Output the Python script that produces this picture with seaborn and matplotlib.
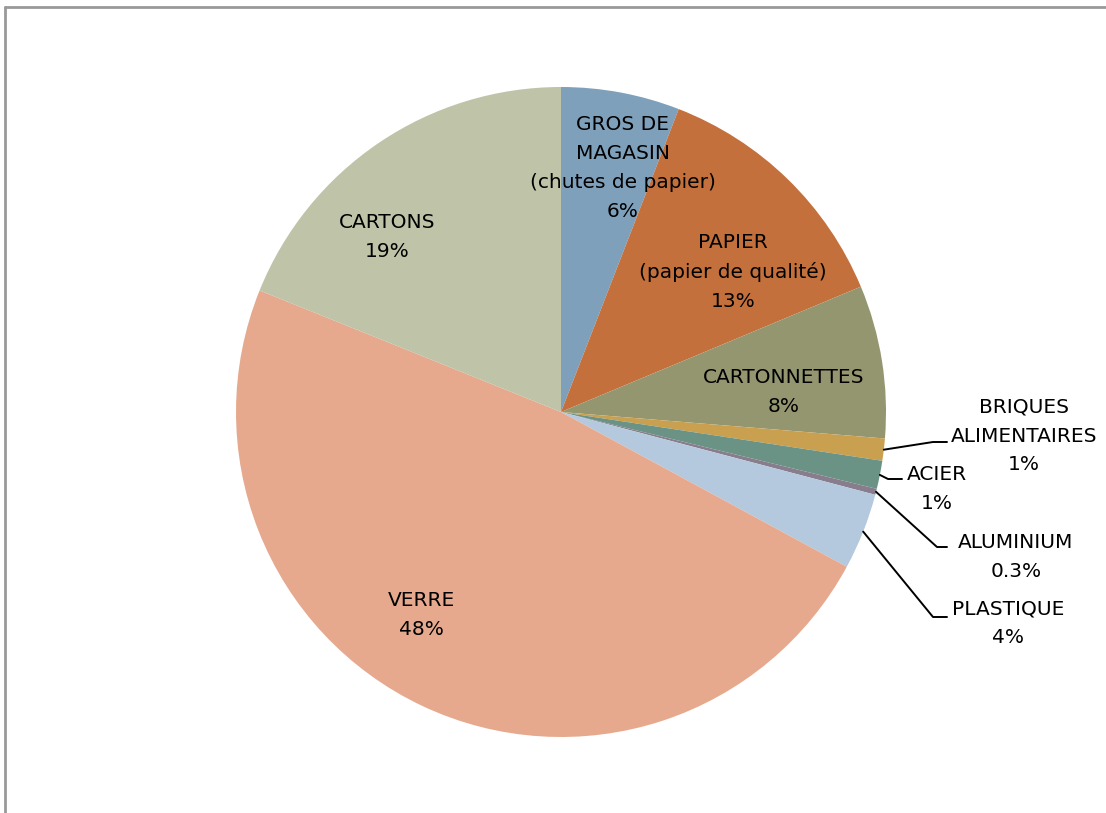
import numpy as np
import matplotlib
matplotlib.use("Agg")
import matplotlib.pyplot as plt
import seaborn as sns

# share of each waste type (percent), clockwise from 12 o'clock
categories = ["GROS DE\nMAGASIN\n(chutes de papier)", "PAPIER\n(papier de qualité)", "CARTONNETTES",
              "BRIQUES\nALIMENTAIRES", "ACIER", "ALUMINIUM", "PLASTIQUE", "VERRE", "CARTONS"]
values = [5.9, 12.8, 7.6, 1.1, 1.4, 0.3, 3.8, 48.2, 18.9]
pct_labels = ["6%", "13%", "8%", "1%", "1%", "0.3%", "4%", "48%", "19%"]
colors = ["#7fa0bb", "#c4703c", "#949670", "#c9a04f", "#6a9385", "#887d8c",
          "#b4c9dd", "#e6a98e", "#bfc3a8"]

sns.set_theme(style="white")
plt.rcParams['font.family'] = ['DejaVu Sans']

fig = plt.figure(figsize=(11.06, 8.13), dpi=100)
W, H = 1106, 813
cx, cy, R = 561, 412, 325
ax = fig.add_axes([(cx - R) / W, (H - cy - R) / H, 2 * R / W, 2 * R / H])

wedges, _ = ax.pie(values, colors=colors, startangle=90, counterclock=False,
                   wedgeprops=dict(linewidth=0))
ax.set_xlim(-1, 1)
ax.set_ylim(-1, 1)
ax.set_aspect("equal")
ax.axis("off")

def px(x, y):
    # pixel position -> data coords of the pie axes
    return (x - cx) / R, (cy - y) / R

fs = 14.5
ls = 1.65
# labels inside the slices
inside = {0: (623, 168), 1: (733, 272), 2: (784, 392), 7: (421, 615), 8: (387, 237)}
for i, (x, y) in inside.items():
    tx, ty = px(x, y)
    ax.text(tx, ty, categories[i] + "\n" + pct_labels[i], ha="center", va="center",
            multialignment="center", fontsize=fs, linespacing=ls, color="black")

# labels outside with leader lines: (text centre, elbow, line end)
outside = {
    3: ((1024, 436), (933, 442), (947, 442)),
    4: ((937, 489), (888, 479), (902, 479)),
    5: ((1016, 557), (937, 547), (947, 547)),
    6: ((1008, 623), (933, 617), (947, 617)),
}
for i, (tc, elbow, end) in outside.items():
    w = wedges[i]
    mid = np.deg2rad((w.theta1 + w.theta2) / 2)
    sx, sy = np.cos(mid), np.sin(mid)
    ex, ey = px(*elbow)
    fx, fy = px(*end)
    ax.plot([sx, ex, fx], [sy, ey, fy], color="black", lw=1.4, clip_on=False)
    tx, ty = px(*tc)
    ax.text(tx, ty, categories[i] + "\n" + pct_labels[i], ha="center", va="center",
            multialignment="center", fontsize=fs, linespacing=ls, color="black")

# chart frame (left and top edges visible)
fig.add_artist(plt.Line2D([5 / W, 5 / W], [0, 1 - 7 / H], color="#999999", lw=2,
                          transform=fig.transFigure))
fig.add_artist(plt.Line2D([5 / W, 1], [1 - 7 / H, 1 - 7 / H], color="#999999", lw=2,
                          transform=fig.transFigure))

fig.savefig("out.png", dpi=100)
